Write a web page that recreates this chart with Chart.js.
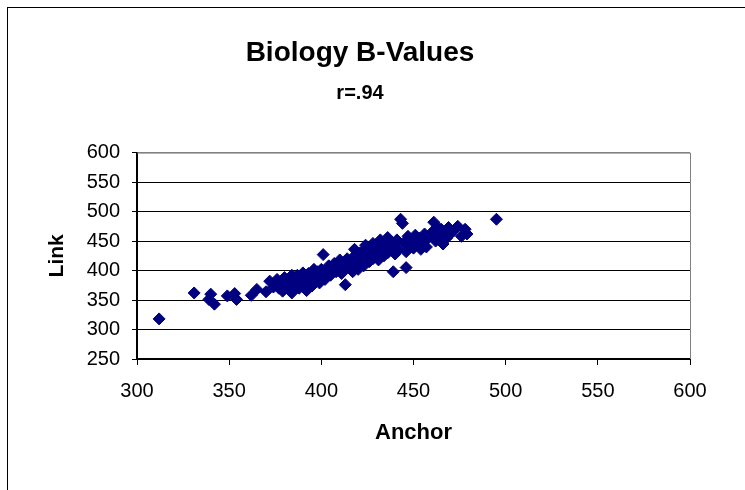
<!DOCTYPE html>
<html>
<head>
<meta charset="utf-8">
<script src="https://cdn.jsdelivr.net/npm/chart.js@4"></script>
<style>
    html, body { margin: 0; padding: 0; background: #fff; overflow: hidden; }
    #wrap { position: relative; width: 745px; height: 490px; }
    #frame {
        position: absolute; left: 7px; top: 7px; width: 760px; height: 500px;
        border-left: 1px solid #000; border-top: 1px solid #000;
    }
    #chart { position: absolute; left: 0; top: 0; }
</style>
</head>
<body>
<div id="wrap">
    <div id="frame"></div>
    <canvas id="chart" width="745" height="490"></canvas>
</div>
<script>
// -------------------------------
// DONNEES
// -------------------------------
const anchorScores = [
    312, 331, 340, 339, 342, 349, 353, 354, 362, 365, 370, 372, 374,
    376, 377, 378, 379, 380, 381, 382, 383, 384, 385, 386, 387, 388, 389, 390,
    391, 392, 393, 394, 395, 396, 397, 398, 399, 400, 400, 401, 402, 403,
    404, 405, 406, 407, 408, 409, 410, 411, 412, 413, 413, 414, 415, 416, 417,
    418, 419, 420, 420, 421, 422, 423, 424, 425, 426, 427, 428, 429, 430, 431,
    432, 433, 434, 435, 436, 437, 438, 439, 440, 440, 441,
    442, 443, 444, 445, 446, 446, 447, 448, 449, 450, 451, 452, 453, 454, 455,
    456, 457, 458, 460, 461, 462, 463, 464, 465, 466, 467, 468, 469, 470, 472,
    474, 476, 478, 479, 495,
    418, 424, 428, 432, 436, 384, 390, 396
];
const linkScores = [
    318, 362, 360, 351, 343, 357, 361, 351, 358, 368, 364, 382, 372,
    385, 370, 378, 365, 388, 373, 380, 368, 362, 386, 375, 392, 370, 382, 378,
    388, 366, 395, 383, 374, 392, 385, 398, 379, 390, 402, 427, 385, 396,
    408, 392, 402, 412, 398, 405, 418, 395, 410, 376, 402, 420, 408, 415, 398,
    425, 410, 420, 402, 430, 414, 408, 436, 425, 415, 432, 420, 440, 428, 418,
    445, 434, 425, 440, 430, 450, 438, 398, 445, 428, 452,
    436, 487, 480, 448, 432, 405, 458, 442, 452, 438, 460, 445, 455, 436, 450,
    462, 440, 455, 465, 482, 450, 474, 460, 470, 445, 465, 455, 473, 462, 468,
    475, 458, 470, 462, 487,
    436, 443, 446, 452, 456, 392, 396, 402
];
const anchorTicks = [300, 350, 400, 450, 500, 550, 600];
const linkTicks = [250, 300, 350, 400, 450, 500, 550, 600];

const FONT = 'Arial, "Liberation Sans", sans-serif';

// cadre gris en haut et a droite de la zone de trace
const plotFrame = {
    id: 'plotFrame',
    beforeDatasetsDraw(chart) {
        const { ctx, chartArea: a } = chart;
        ctx.save();
        ctx.strokeStyle = '#808080';
        ctx.lineWidth = 1;
        ctx.beginPath();
        ctx.moveTo(a.left, a.top + 0.5);
        ctx.lineTo(a.right + 0.5, a.top + 0.5);
        ctx.lineTo(a.right + 0.5, a.bottom);
        ctx.stroke();
        ctx.restore();
    }
};

// -------------------------------
// GRAPHIQUE
// -------------------------------
const ctx = document.getElementById('chart').getContext('2d');

new Chart(ctx, {
    type: 'scatter',
    data: {
        datasets: [{
            label: 'Link',
            data: anchorScores.map((a, i) => ({ x: a, y: linkScores[i] })),
            pointStyle: 'rectRot',
            pointRadius: 6,
            pointBorderWidth: 1,
            backgroundColor: '#000080',
            borderColor: '#000080'
        }]
    },
    options: {
        responsive: false,
        animation: false,
        layout: { padding: { left: 30, right: 55, top: 0, bottom: 0 } },
        plugins: {
            legend: { display: false },
            tooltip: { enabled: false },
            title: {
                display: true,
                text: 'Biology B-Values',
                color: '#000',
                font: { family: FONT, size: 28, weight: 'bold' },
                padding: { top: 36, bottom: 0 }
            },
            subtitle: {
                display: true,
                text: 'r=.94',
                color: '#000',
                font: { family: FONT, size: 20, weight: 'bold' },
                padding: { top: 12, bottom: 47 }
            }
        },
        scales: {
            x: {
                type: 'linear',
                min: 300,
                max: 600,
                afterBuildTicks: axis => { axis.ticks = anchorTicks.map(v => ({ value: v })); },
                afterFit: axis => { axis.height = 131; },
                ticks: { color: '#000', font: { family: FONT, size: 20 }, padding: 14 },
                grid: { drawOnChartArea: false, drawTicks: true, tickLength: 6, color: '#000' },
                border: { color: '#000', width: 2 },
                title: {
                    display: true,
                    text: 'Anchor',
                    color: '#000',
                    font: { family: FONT, size: 22, weight: 'bold' },
                    padding: { top: 0, bottom: 44 }
                }
            },
            y: {
                type: 'linear',
                min: 250,
                max: 600,
                afterBuildTicks: axis => { axis.ticks = linkTicks.map(v => ({ value: v })); },
                afterFit: axis => { axis.width = 107; },
                ticks: { color: '#000', font: { family: FONT, size: 20 }, padding: 12 },
                grid: {
                    color: c => (c.tick && c.tick.value === 600 ? '#808080' : '#000'),
                    tickColor: '#000',
                    tickLength: 5,
                    lineWidth: 1
                },
                border: { color: '#000', width: 2 },
                title: {
                    display: true,
                    text: 'Link',
                    color: '#000',
                    font: { family: FONT, size: 21, weight: 'bold' },
                    padding: { top: 15, bottom: 0 }
                }
            }
        }
    },
    plugins: [plotFrame]
});
</script>
</body>
</html>
